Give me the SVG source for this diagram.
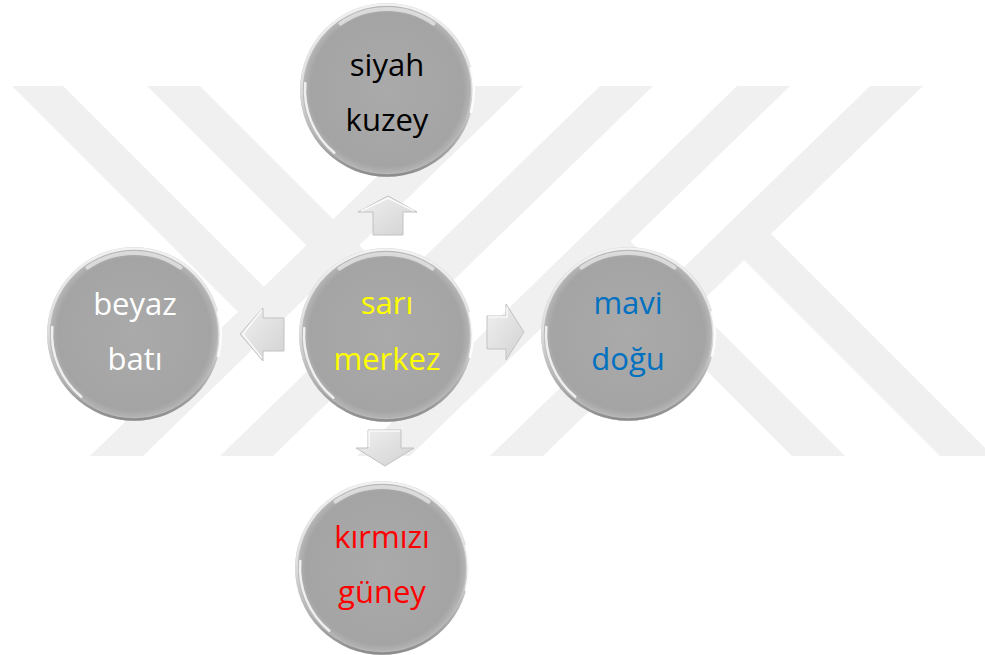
<svg xmlns="http://www.w3.org/2000/svg" xmlns:xlink="http://www.w3.org/1999/xlink" width="985" height="655" viewBox="0 0 985 655">
<style>
.wm{fill:#f0f0f0}
.lbl{font-family:"Open Sans","Noto Sans","Liberation Sans",sans-serif;font-size:31px;text-anchor:middle}
.arrow{fill:url(#arrowFill);stroke:#c2c2c2;stroke-width:1;stroke-linejoin:round}
.arrowHi{fill:none;stroke:#ffffff;stroke-width:1.5;stroke-opacity:0.8;stroke-linejoin:round}
</style>
<defs>
<radialGradient id="ballBody" cx="0.5" cy="0.5" r="0.5">
<stop offset="0" stop-color="#aaaaaa"/>
<stop offset="0.88" stop-color="#a4a4a4"/>
<stop offset="0.95" stop-color="#b2b2b2"/>
<stop offset="1" stop-color="#d2d2d2"/>
</radialGradient>
<linearGradient id="rimGrad" x1="0" y1="0" x2="0" y2="1">
<stop offset="0" stop-color="#f2f2f2"/>
<stop offset="0.5" stop-color="#dcdcdc"/>
<stop offset="1" stop-color="#8c8c8c"/>
</linearGradient>
<linearGradient id="arrowFill" x1="0" y1="0" x2="1" y2="1">
<stop offset="0" stop-color="#f0f0f0"/>
<stop offset="1" stop-color="#d2d2d2"/>
</linearGradient>
<g id="ball">
<circle r="87" fill="url(#ballBody)"/>
<circle r="85.5" fill="none" stroke="url(#rimGrad)" stroke-width="2.5"/>
<path d="M -46.5 -66.3 A 81 81 0 0 1 46.5 -66.3" fill="none" stroke="#ffffff" stroke-opacity="0.55" stroke-width="4" stroke-linecap="round"/>
<path d="M -52.7 62.8 A 82 82 0 0 1 -81.7 -7.1" fill="none" stroke="#ffffff" stroke-opacity="0.8" stroke-width="2.5" stroke-linecap="round"/>
<path d="M 84 -22 A 87 87 0 0 1 84 22" fill="none" stroke="#ffffff" stroke-opacity="0.9" stroke-width="2.5" stroke-linecap="round"/>
</g>
</defs>
<rect width="985" height="655" fill="#ffffff"/>
<g id="watermark">
<polygon class="wm" points="470,86 523,86 143,456 90,456"/>
<polygon class="wm" points="600,86 653,86 273,456 220,456"/>
<polygon class="wm" points="737,86 790,86 410,456 357,456"/>
<polygon class="wm" points="870,86 923,86 543,456 490,456"/>
<polygon class="wm" points="12,86 63,86 280,303 254,328"/>
<polygon class="wm" points="147,86 200,86 410,296 385,324"/>
<polygon class="wm" points="757,220 993,456 940,456 720,236"/>
<polygon class="wm" points="615,226 845,456 792,456 587,251"/>
</g>
<g id="connectors">
<g id="arrow-up">
<polygon class="arrow" points="388,196 417,212 403,212 403,235 373,235 373,212 358,212"/>
<polyline class="arrowHi" points="361,211 388,198 414,211"/>
</g>
<g id="arrow-left">
<polygon class="arrow" points="240,334 263,308 263,318 284,318 284,351 263,351 263,361"/>
<polyline class="arrowHi" points="262,310 243,334 262,358"/>
</g>
<g id="arrow-right">
<polygon class="arrow" points="524,332 506,304 506,316 487,316 487,349 506,349 506,360"/>
<polyline class="arrowHi" points="488,317 507,317 507,307"/>
</g>
<g id="arrow-down">
<polygon class="arrow" points="385,466 414,448 401,448 401,430 368,430 368,448 356,448"/>
<polyline class="arrowHi" points="369,447 369,431 400,431"/>
</g>
</g>
<g id="node-north">
<use xlink:href="#ball" transform="translate(387,90)"/>
<text class="lbl" x="387" y="76" fill="#000000">siyah</text>
<text class="lbl" x="387" y="131" fill="#000000">kuzey</text>
</g>
<g id="node-center">
<use xlink:href="#ball" transform="translate(386,335)"/>
<text class="lbl" x="387" y="314" fill="#ffff00">sarı</text>
<text class="lbl" x="387" y="370" fill="#ffff00">merkez</text>
</g>
<g id="node-west">
<use xlink:href="#ball" transform="translate(134,334)"/>
<text class="lbl" x="135" y="315" fill="#ffffff">beyaz</text>
<text class="lbl" x="135" y="370" fill="#ffffff">batı</text>
</g>
<g id="node-east">
<use xlink:href="#ball" transform="translate(628,334)"/>
<text class="lbl" x="628" y="314" fill="#0070c0">mavi</text>
<text class="lbl" x="628" y="370" fill="#0070c0">doğu</text>
</g>
<g id="node-south">
<use xlink:href="#ball" transform="translate(382,568)"/>
<text class="lbl" x="382" y="548" fill="#ff0000">kırmızı</text>
<text class="lbl" x="382" y="603" fill="#ff0000">güney</text>
</g>
</svg>
